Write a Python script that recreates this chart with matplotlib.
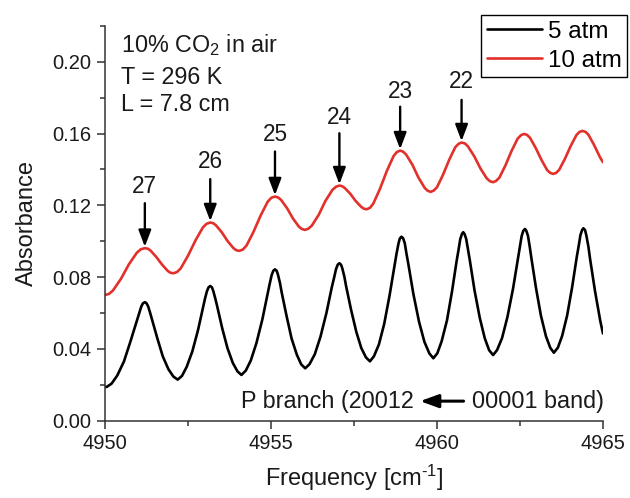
import matplotlib
matplotlib.use('Agg')
import matplotlib.pyplot as plt
from matplotlib.ticker import MultipleLocator, FormatStrFormatter

plt.rcParams['font.family'] = ['Liberation Sans', 'DejaVu Sans']
plt.rcParams['mathtext.fontset'] = 'custom'
plt.rcParams['mathtext.rm'] = 'Liberation Sans'
plt.rcParams['mathtext.it'] = 'Liberation Sans:italic'
plt.rcParams['mathtext.bf'] = 'Liberation Sans:bold'

# ---------------- data ----------------
freq_5atm = [
    4950.00, 4950.05, 4950.20, 4950.37, 4950.57, 4950.76, 4950.95, 4951.02, 4951.09, 4951.14, 4951.20,
    4951.25, 4951.30, 4951.36, 4951.42, 4951.58, 4951.74, 4951.91, 4952.06, 4952.19,
    4952.32, 4952.46, 4952.63, 4952.80, 4952.95, 4953.01, 4953.07, 4953.12, 4953.17,
    4953.22, 4953.26, 4953.32, 4953.38, 4953.53, 4953.69, 4953.85, 4953.99, 4954.11,
    4954.24, 4954.39, 4954.56, 4954.74, 4954.90, 4954.96, 4955.02, 4955.07, 4955.12,
    4955.17, 4955.21, 4955.27, 4955.32, 4955.47, 4955.62, 4955.78, 4955.91, 4956.03,
    4956.16, 4956.32, 4956.49, 4956.67, 4956.83, 4956.90, 4956.96, 4957.01, 4957.06,
    4957.11, 4957.15, 4957.21, 4957.26, 4957.41, 4957.57, 4957.72, 4957.86, 4957.98,
    4958.10, 4958.25, 4958.41, 4958.57, 4958.72, 4958.78, 4958.84, 4958.88, 4958.93,
    4958.98, 4959.03, 4959.08, 4959.14, 4959.29, 4959.46, 4959.62, 4959.77, 4959.89,
    4960.01, 4960.14, 4960.30, 4960.45, 4960.59, 4960.65, 4960.70, 4960.75, 4960.79,
    4960.83, 4960.88, 4960.93, 4960.99, 4961.13, 4961.29, 4961.44, 4961.57, 4961.69,
    4961.81, 4961.96, 4962.12, 4962.29, 4962.44, 4962.50, 4962.55, 4962.60, 4962.65,
    4962.69, 4962.74, 4962.79, 4962.84, 4962.98, 4963.13, 4963.28, 4963.41, 4963.52,
    4963.64, 4963.77, 4963.92, 4964.07, 4964.21, 4964.27, 4964.32, 4964.37, 4964.41,
    4964.46, 4964.50, 4964.56, 4964.61, 4964.76, 4964.92, 4965.00]
abs_5atm = [
    0.0188, 0.0187, 0.0206, 0.0251, 0.0329, 0.0437, 0.0551, 0.0595, 0.0634, 0.0653, 0.0660,
    0.0654, 0.0636, 0.0600, 0.0561, 0.0456, 0.0358, 0.0286, 0.0245, 0.0228,
    0.0249, 0.0299, 0.0385, 0.0503, 0.0630, 0.0678, 0.0721, 0.0743, 0.0750,
    0.0743, 0.0723, 0.0682, 0.0636, 0.0515, 0.0403, 0.0321, 0.0274, 0.0254,
    0.0278, 0.0334, 0.0431, 0.0564, 0.0707, 0.0762, 0.0811, 0.0835, 0.0843,
    0.0835, 0.0813, 0.0767, 0.0716, 0.0582, 0.0457, 0.0366, 0.0313, 0.0291,
    0.0314, 0.0370, 0.0467, 0.0600, 0.0742, 0.0796, 0.0845, 0.0869, 0.0877,
    0.0869, 0.0847, 0.0802, 0.0751, 0.0619, 0.0494, 0.0404, 0.0352, 0.0330,
    0.0358, 0.0424, 0.0539, 0.0696, 0.0865, 0.0929, 0.0987, 0.1015, 0.1025,
    0.1016, 0.0988, 0.0931, 0.0869, 0.0704, 0.0550, 0.0439, 0.0374, 0.0347,
    0.0375, 0.0442, 0.0558, 0.0717, 0.0888, 0.0953, 0.1011, 0.1040, 0.1050,
    0.1040, 0.1012, 0.0956, 0.0892, 0.0726, 0.0571, 0.0458, 0.0392, 0.0365,
    0.0393, 0.0460, 0.0576, 0.0735, 0.0906, 0.0971, 0.1029, 0.1058, 0.1068,
    0.1058, 0.1030, 0.0973, 0.0909, 0.0741, 0.0585, 0.0471, 0.0406, 0.0378,
    0.0406, 0.0472, 0.0586, 0.0743, 0.0912, 0.0976, 0.1034, 0.1062, 0.1072,
    0.1062, 0.1031, 0.0970, 0.0902, 0.0721, 0.0553, 0.0485]

freq_10atm = [
    4950.00, 4950.12, 4950.24, 4950.48, 4950.72, 4950.96, 4951.08, 4951.20,
    4951.29, 4951.37, 4951.54, 4951.72, 4951.89, 4951.97, 4952.06,
    4952.17, 4952.28, 4952.50, 4952.73, 4952.95, 4953.06, 4953.17,
    4953.26, 4953.34, 4953.52, 4953.69, 4953.87, 4953.95, 4954.04,
    4954.15, 4954.26, 4954.47, 4954.69, 4954.90, 4955.01, 4955.12,
    4955.21, 4955.30, 4955.48, 4955.66, 4955.84, 4955.93, 4956.02,
    4956.12, 4956.23, 4956.44, 4956.64, 4956.85, 4956.96, 4957.06,
    4957.14, 4957.22, 4957.39, 4957.55, 4957.72, 4957.80, 4957.88,
    4957.98, 4958.08, 4958.28, 4958.49, 4958.69, 4958.79, 4958.89,
    4958.98, 4959.07, 4959.26, 4959.44, 4959.63, 4959.72, 4959.81,
    4959.90, 4960.00, 4960.18, 4960.37, 4960.55, 4960.65, 4960.74,
    4960.84, 4960.93, 4961.12, 4961.31, 4961.50, 4961.60, 4961.69,
    4961.78, 4961.88, 4962.06, 4962.25, 4962.43, 4962.53, 4962.62,
    4962.71, 4962.80, 4962.97, 4963.15, 4963.32, 4963.41, 4963.50,
    4963.59, 4963.68, 4963.85, 4964.03, 4964.20, 4964.29, 4964.38,
    4964.47, 4964.56, 4964.73, 4964.91, 4965.00]
abs_10atm = [
    0.0700, 0.0706, 0.0725, 0.0790, 0.0871, 0.0936, 0.0955, 0.0961,
    0.0958, 0.0948, 0.0913, 0.0869, 0.0834, 0.0824, 0.0821,
    0.0828, 0.0848, 0.0919, 0.1006, 0.1077, 0.1097, 0.1104,
    0.1100, 0.1089, 0.1049, 0.1001, 0.0961, 0.0950, 0.0946,
    0.0953, 0.0975, 0.1051, 0.1144, 0.1220, 0.1242, 0.1249,
    0.1244, 0.1231, 0.1185, 0.1127, 0.1081, 0.1068, 0.1063,
    0.1069, 0.1087, 0.1148, 0.1225, 0.1286, 0.1304, 0.1310,
    0.1307, 0.1297, 0.1264, 0.1224, 0.1191, 0.1181, 0.1178,
    0.1186, 0.1209, 0.1291, 0.1392, 0.1474, 0.1497, 0.1505,
    0.1499, 0.1483, 0.1426, 0.1355, 0.1297, 0.1281, 0.1275,
    0.1282, 0.1301, 0.1370, 0.1455, 0.1524, 0.1543, 0.1550,
    0.1545, 0.1529, 0.1474, 0.1405, 0.1350, 0.1334, 0.1329,
    0.1336, 0.1355, 0.1422, 0.1505, 0.1572, 0.1591, 0.1598,
    0.1593, 0.1577, 0.1521, 0.1452, 0.1396, 0.1381, 0.1375,
    0.1381, 0.1398, 0.1458, 0.1532, 0.1592, 0.1609, 0.1615,
    0.1610, 0.1594, 0.1537, 0.1468, 0.1440]

series_labels = ['5 atm', '10 atm']

peak_labels = ['27', '26', '25', '24', '23', '22']
peak_freq = [4951.20, 4953.17, 4955.12, 4957.06, 4958.89, 4960.74]
peak_abs = [0.0961, 0.1104, 0.1249, 0.1310, 0.1505, 0.1550]
arrow_top = [0.1212, 0.1346, 0.1500, 0.1602, 0.1750, 0.1788]
label_abs = [0.1304, 0.1444, 0.1593, 0.1690, 0.1834, 0.1890]

info_lines = ['10% CO$_2$ in air', 'T = 296 K', 'L = 7.8 cm']

x_ticks = [4950, 4955, 4960, 4965]
y_ticks = [0.00, 0.04, 0.08, 0.12, 0.16, 0.20]

# ---------------- figure ----------------
RED = '#e2302a'
SPINE = '#333333'
TXT = '#1a1a1a'

fig = plt.figure(figsize=(6.3, 4.98), dpi=100)
ax = fig.add_axes([105/630, 1-420.5/498, 498/630, 394.5/498])

l1, = ax.plot(freq_5atm, abs_5atm, color='black', lw=1.9,
              solid_joinstyle='round', solid_capstyle='round')
l2, = ax.plot(freq_10atm, abs_10atm, color=RED, lw=1.9,
              solid_joinstyle='round', solid_capstyle='round')

ax.set_xlim(4950, 4965)
ax.set_ylim(0.0, 0.22)
ax.set_xticks(x_ticks)
ax.set_yticks(y_ticks)
ax.xaxis.set_minor_locator(MultipleLocator(2.5))
ax.yaxis.set_minor_locator(MultipleLocator(0.02))
ax.yaxis.set_major_formatter(FormatStrFormatter('%.2f'))

for s in ['top', 'right']:
    ax.spines[s].set_visible(False)
for s in ['left', 'bottom']:
    ax.spines[s].set_color(SPINE)
    ax.spines[s].set_linewidth(1.1)

ax.tick_params(which='major', direction='out', length=6, width=1.1, color=SPINE,
               labelsize=14.5, labelcolor=TXT, pad=4)
ax.tick_params(which='minor', direction='out', length=3.6, width=1.1, color=SPINE)

ax.set_xlabel('Frequency [cm$^{\\text{-1}}$]', fontsize=17, color=TXT, labelpad=7)
ax.set_ylabel('Absorbance', fontsize=17, color=TXT, labelpad=10)

# peak arrows and J labels
for lab, f, a, top, ly in zip(peak_labels, peak_freq, peak_abs, arrow_top, label_abs):
    ax.annotate('', xy=(f, a + 0.0008), xytext=(f, top),
                arrowprops=dict(arrowstyle='-|>,head_length=1.0,head_width=0.38',
                                mutation_scale=10, lw=1.7, color='black',
                                shrinkA=0, shrinkB=0))
    ax.text(f, ly, lab, ha='center', va='center', fontsize=16.3, color=TXT)

# info block
info_y = [0.2057, 0.1877, 0.1727]
for txt, yy in zip(info_lines, info_y):
    ax.text(4950.47, yy, txt, ha='left', va='baseline', fontsize=16.8, color=TXT)

# band annotation
ax.text(4959.29, 0.0068, 'P branch (20012', ha='right', va='baseline',
        fontsize=16.8, color=TXT)
ax.text(4961.04, 0.0068, '00001 band)', ha='left', va='baseline',
        fontsize=16.8, color=TXT)
ax.annotate('', xy=(4959.49, 0.0108), xytext=(4960.80, 0.0108),
            arrowprops=dict(arrowstyle='-|>,head_length=1.1,head_width=0.4',
                            mutation_scale=10, lw=2.2, color='black',
                            shrinkA=0, shrinkB=0))

leg = ax.legend([l1, l2], series_labels, loc='upper right',
                bbox_to_anchor=(627/630, 1-15/498), bbox_transform=fig.transFigure,
                fontsize=17.4, frameon=True, fancybox=False, framealpha=1,
                edgecolor='black', borderaxespad=0, borderpad=0.23,
                handlelength=2.27, handletextpad=0.25, labelspacing=0.29)
leg.get_frame().set_linewidth(1.0)
for ln in leg.get_lines():
    ln.set_linewidth(1.9)

fig.savefig('out.png', dpi=100)
